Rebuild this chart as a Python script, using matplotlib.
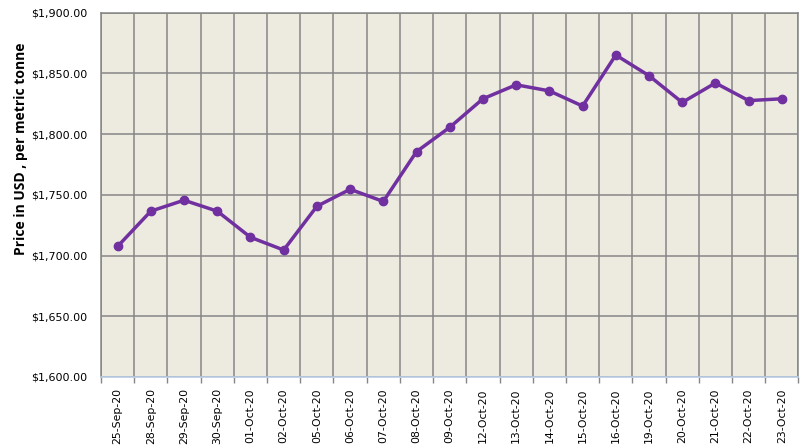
import matplotlib.pyplot as plt
from matplotlib.ticker import FuncFormatter, FixedLocator
import numpy as np

dates = ['25-Sep-20', '28-Sep-20', '29-Sep-20', '30-Sep-20', '01-Oct-20', '02-Oct-20',
         '05-Oct-20', '06-Oct-20', '07-Oct-20', '08-Oct-20', '09-Oct-20', '12-Oct-20',
         '13-Oct-20', '14-Oct-20', '15-Oct-20', '16-Oct-20', '19-Oct-20', '20-Oct-20',
         '21-Oct-20', '22-Oct-20', '23-Oct-20']
prices = [1707.5, 1736.5, 1745.5, 1736.5, 1715, 1704.5, 1740.5, 1754.5, 1744.5,
          1785.5, 1805.5, 1829, 1840.5, 1835.5, 1823, 1865, 1848, 1826, 1842,
          1827.5, 1829]

fig = plt.figure(figsize=(8.08, 4.47), dpi=100)
ax = fig.add_axes([0.125, 0.1566, 0.8632, 0.8154])
ax.set_facecolor('#EDEAE0')

x = np.arange(len(dates))
ax.plot(x, prices, color='#7030A0', lw=2.5, marker='o', ms=6, zorder=3)

ax.set_xlim(-0.5, len(dates) - 0.5)
ax.set_ylim(1600, 1900)
ax.set_yticks(np.arange(1600, 1901, 50))
ax.yaxis.set_major_formatter(FuncFormatter(lambda v, p: '${:,.2f}'.format(v)))

ax.set_xticks(x)
ax.set_xticklabels(dates, rotation=90)
ax.xaxis.set_minor_locator(FixedLocator(np.arange(-0.5, len(dates), 1)))
ax.tick_params(axis='x', which='major', length=0, pad=8, labelsize=7.8)
ax.tick_params(axis='x', which='minor', length=4, color='#868686', width=1)
ax.tick_params(axis='y', length=0, pad=10, labelsize=8)

ax.grid(True, axis='y', color='#868686', lw=1.1)
ax.grid(True, axis='x', which='minor', color='#868686', lw=1.1)
ax.set_axisbelow(True)

for s in ['left', 'top', 'right']:
    ax.spines[s].set_color('#868686')
    ax.spines[s].set_linewidth(1.1)
ax.spines['bottom'].set_color('#B9CDE5')
ax.spines['bottom'].set_linewidth(1.2)

ax.set_ylabel('Price in USD , per metric tonne', fontsize=10, fontweight='bold',
              family='Open Sans')
ax.yaxis.set_label_coords(-0.105, 0.625)

fig.savefig('out.png', dpi=100)
